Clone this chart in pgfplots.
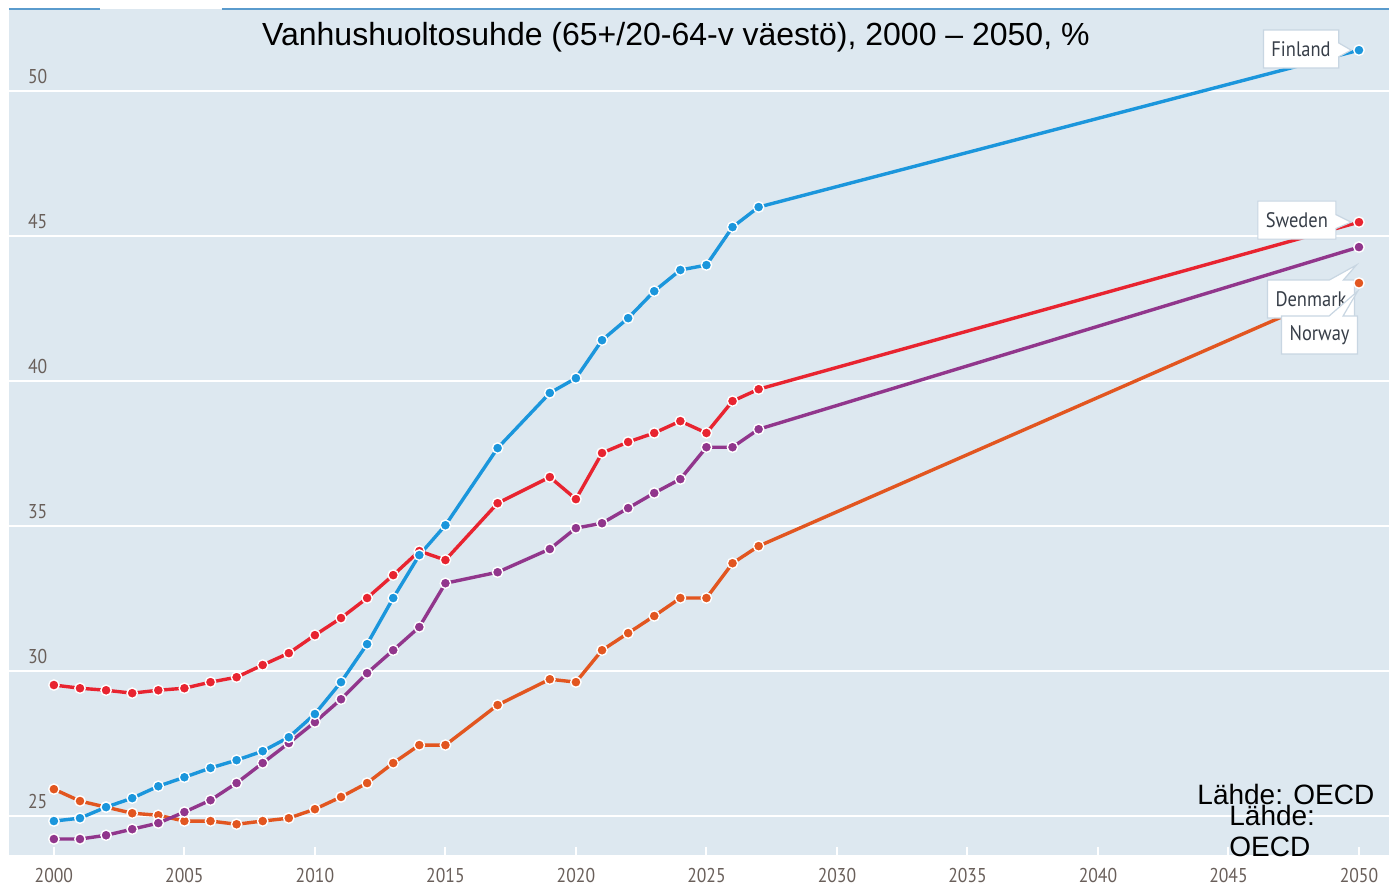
\documentclass[border=0pt]{standalone}
\usepackage{fontspec}
\setmainfont{Liberation Sans}
\newfontfamily\condfont[FakeStretch=0.88]{PT Sans}
\usepackage{pgfplots}
\pgfplotsset{compat=1.18}
\usetikzlibrary{shapes.callouts}
\definecolor{bgblue}{RGB}{221,232,240}
\definecolor{fiblue}{RGB}{27,150,220}
\definecolor{sered}{RGB}{232,36,48}
\definecolor{dkpurple}{RGB}{145,54,140}
\definecolor{noorange}{RGB}{226,86,32}
\definecolor{tickgray}{RGB}{105,95,90}
\definecolor{labgray}{RGB}{55,62,72}
\definecolor{boxline}{RGB}{200,214,226}
\definecolor{topblue}{RGB}{90,155,205}

\begin{document}
\begin{tikzpicture}
\begin{axis}[
  at={(0,0)}, anchor=south west,
  scale only axis, width=690pt, height=423pt,
  xmin=1998.28, xmax=2051.15, ymin=23.66, ymax=52.83,
  axis background/.style={fill=bgblue},
  axis line style={draw=none},
  clip=false,
  xtick={2000,2005,...,2050},
  ytick={25,30,...,50},
  ymajorgrids, grid style={white, line width=1pt},
  xtick pos=lower, tick align=inside, major tick length=4pt,
  xtick style={white, line width=1pt},
  ytick style={draw=none},
  /pgf/number format/assume math mode=true,
  /pgf/number format/1000 sep={},
  tick label style={font=\condfont\fontsize{10}{12}\selectfont, text=tickgray},
  xticklabel style={yshift=-3pt},
  yticklabel style={anchor=south west, xshift=6pt, yshift=0pt},
  every axis plot/.append style={line width=1.7pt, mark=*, mark size=2.6pt},
]
\addplot[color=noorange, mark options={fill=noorange, draw=white, line width=0.7pt}] coordinates {
(2000,25.93) (2001,25.52) (2002,25.31) (2003,25.10) (2004,25.03) (2005,24.83)
(2006,24.83) (2007,24.72) (2008,24.83) (2009,24.93) (2010,25.24) (2011,25.66)
(2012,26.14) (2013,26.83) (2014,27.45) (2015,27.45) (2017,28.83) (2019,29.72)
(2020,29.62) (2021,30.72) (2022,31.31) (2023,31.90) (2024,32.52) (2025,32.52)
(2026,33.72) (2027,34.31) (2050,43.38)};
\addplot[color=dkpurple, mark options={fill=dkpurple, draw=white, line width=0.7pt}] coordinates {
(2000,24.21) (2001,24.21) (2002,24.34) (2003,24.55) (2004,24.76) (2005,25.14)
(2006,25.55) (2007,26.14) (2008,26.83) (2009,27.52) (2010,28.24) (2011,29.03)
(2012,29.93) (2013,30.72) (2014,31.52) (2015,33.03) (2017,33.41) (2019,34.21)
(2020,34.93) (2021,35.10) (2022,35.62) (2023,36.14) (2024,36.62) (2025,37.72)
(2026,37.72) (2027,38.34) (2050,44.62)};
\addplot[color=sered, mark options={fill=sered, draw=white, line width=0.7pt}] coordinates {
(2000,29.52) (2001,29.41) (2002,29.34) (2003,29.24) (2004,29.34) (2005,29.41)
(2006,29.62) (2007,29.79) (2008,30.21) (2009,30.62) (2010,31.24) (2011,31.83)
(2012,32.52) (2013,33.31) (2014,34.14) (2015,33.83) (2017,35.79) (2019,36.69)
(2020,35.93) (2021,37.52) (2022,37.90) (2023,38.21) (2024,38.62) (2025,38.21)
(2026,39.31) (2027,39.72) (2050,45.48)};
\addplot[color=fiblue, mark options={fill=fiblue, draw=white, line width=0.7pt}] coordinates {
(2000,24.83) (2001,24.93) (2002,25.31) (2003,25.62) (2004,26.03) (2005,26.34)
(2006,26.66) (2007,26.93) (2008,27.24) (2009,27.72) (2010,28.52) (2011,29.62)
(2012,30.93) (2013,32.52) (2014,34.00) (2015,35.03) (2017,37.69) (2019,39.59)
(2020,40.10) (2021,41.41) (2022,42.17) (2023,43.10) (2024,43.83) (2025,44.00)
(2026,45.31) (2027,46.00) (2050,51.41)};

\tikzset{lab/.style={rectangle callout, fill=white, draw=boxline, line width=0.6pt,
  callout pointer width=7pt, font=\condfont\fontsize{10.5}{12}\selectfont,
  text=labgray, minimum height=19pt, inner xsep=4pt}}
\node[lab, callout absolute pointer={(axis cs:2049.7,51.41)}] at (axis cs:2047.78,51.45) {Finland};
\node[lab, callout absolute pointer={(axis cs:2049.7,45.48)}] at (axis cs:2047.62,45.55) {Sweden};
\node[lab, callout absolute pointer={(axis cs:2049.9,44.0)}] at (axis cs:2048.16,42.83) {Denmark};
\node[lab, callout absolute pointer={(axis cs:2049.95,43.1)}] at (axis cs:2048.49,41.59) {Norway};

\node[font=\fontsize{16}{19}\selectfont] at (axis cs:2023.83,51.86)
  {Vanhushuoltosuhde (65+/20-64-v väestö), 2000 – 2050, \%};
\node[font=\fontsize{14}{16}\selectfont] at (axis cs:2047.2,25.76) {Lähde: OECD};
\node[font=\fontsize{14}{16}\selectfont, anchor=west, inner sep=0pt] at (axis cs:2045.02,25.03) {Lähde:};
\node[font=\fontsize{14}{16}\selectfont, anchor=west, inner sep=0pt] at (axis cs:2045.02,23.93) {OECD};

\draw[topblue, line width=1pt] (axis description cs:0,1) -- (axis description cs:0.066,1);
\draw[topblue, line width=1pt] (axis description cs:0.154,1) -- (axis description cs:1,1);
\end{axis}
\pgfresetboundingbox
\path[use as bounding box] (-4.5pt,-15.5pt) rectangle (690pt,427.5pt);
\end{tikzpicture}
\end{document}
